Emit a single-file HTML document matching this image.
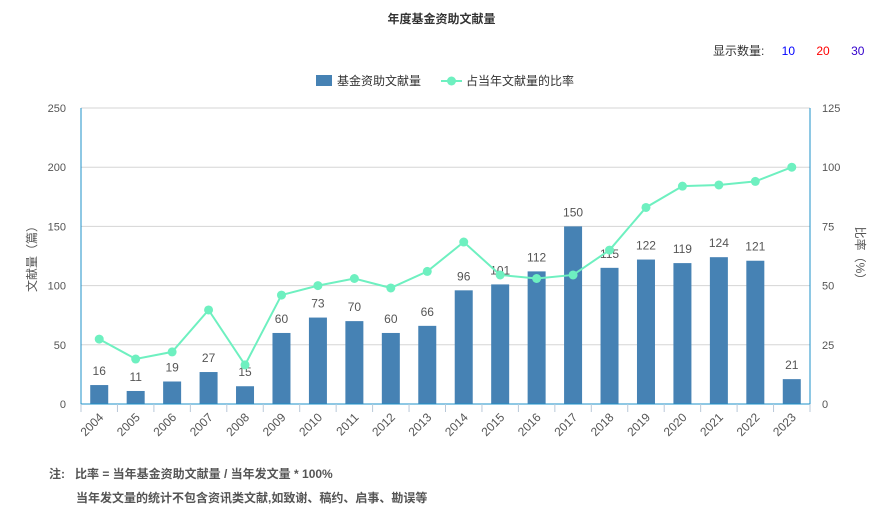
<!DOCTYPE html>
<html><head><meta charset="utf-8"><style>
body{margin:0;width:883px;height:511px;background:#fff;font-family:"Liberation Sans","Noto Sans CJK SC",sans-serif;color:#333;overflow:hidden;position:relative}
.t{position:absolute;white-space:nowrap}
</style></head><body>
<div class="t" style="left:0;width:883px;top:10px;text-align:center;font-size:12px;font-weight:bold;color:#333">年度基金资助文献量</div>
<div class="t" style="left:713px;top:42px;font-size:12px;color:#333">显示数量:
<span style="color:#00f;margin-left:14px">10</span>
<span style="color:#f00;margin-left:18px">20</span>
<span style="color:#30c;margin-left:18px">30</span></div>
<svg width="883" height="511" style="position:absolute;left:0;top:0" id="chart">
<g font-size="12" fill="#333">
<rect x="316" y="75" width="16" height="11" fill="#4682b4"/>
<text x="337" y="85">基金资助文献量</text>
<line x1="441" y1="81" x2="462" y2="81" stroke="#6ef0c0" stroke-width="2"/>
<circle cx="451.5" cy="81" r="4.5" fill="#6ef0c0"/>
<text x="466" y="85">占当年文献量的比率</text>
</g>
<g id="grid"></g><g id="bars"></g><g id="line"></g><g id="axes"></g>
<text transform="translate(36,256) rotate(-90)" text-anchor="middle" font-size="12" fill="#555">文献量（篇）</text>
<text transform="translate(856,256) rotate(90)" text-anchor="middle" font-size="12" fill="#555">比率（%）</text>
</svg>
<div class="t" style="left:49px;top:465px;font-size:12px;font-weight:bold;color:#555">注:&nbsp;&nbsp; 比率 = 当年基金资助文献量 / 当年发文量 * 100%</div>
<div class="t" style="left:76px;top:489px;font-size:12px;font-weight:bold;color:#555">当年发文量的统计不包含资讯类文献,如致谢、稿约、启事、勘误等</div>
<script>
const years=["2004","2005","2006","2007","2008","2009","2010","2011","2012","2013","2014","2015","2016","2017","2018","2019","2020","2021","2022","2023"];
const counts=[16,11,19,27,15,60,73,70,60,66,96,101,112,150,115,122,119,124,121,21];
const ratios=[27.4,19,22,39.7,16.5,46,50,53,49,56,68.4,54.5,53,54.5,65,83,92,92.5,94,100];
const leftTicks=[0,50,100,150,200,250];
const rightTicks=[0,25,50,75,100,125];
const NS="http://www.w3.org/2000/svg";
const X0=81,X1=810,Y0=404,Y1=108;
const bw=(X1-X0)/years.length;
const xC=i=>X0+bw*(i+0.5);
const yL=v=>Y0-(v/250)*(Y0-Y1);
const yR=v=>Y0-(v/125)*(Y0-Y1);
function mk(tag,attrs,parent,txt){const e=document.createElementNS(NS,tag);for(const k in attrs)e.setAttribute(k,attrs[k]);if(txt!==undefined)e.textContent=txt;document.getElementById(parent).appendChild(e);return e;}
leftTicks.forEach((t,i)=>{
 const g=mk('line',{x1:X0,x2:X1,y1:yL(t),y2:yL(t),stroke:'#d5d5d5'},'grid');
 
 
 const a=mk('text',{x:66,y:yL(t)+4,'text-anchor':'end','font-size':11,fill:'#555'},'axes',t);
 
 
});
rightTicks.forEach(t=>{
 const a=mk('text',{x:822,y:yR(t)+4,'font-size':11,fill:'#555'},'axes',t);
 
 
});
mk('line',{x1:X0,x2:X0,y1:Y1,y2:Y0,stroke:'#1e90c8'},'axes');
mk('line',{x1:X1,x2:X1,y1:Y1,y2:Y0,stroke:'#1e90c8'},'axes');
mk('line',{x1:X0,x2:X1,y1:Y0,y2:Y0,stroke:'#1e90c8'},'axes');
for(let i=0;i<=years.length;i++)mk('line',{x1:X0+bw*i,x2:X0+bw*i,y1:Y0,y2:Y0+8,stroke:'#b8c8d8'},'axes');
years.forEach((y,i)=>{
 const r=mk('rect',{x:xC(i)-9,y:yL(counts[i]),width:18,height:Y0-yL(counts[i]),fill:'#4682b4'},'bars');
 
 
 const l=mk('text',{x:xC(i),y:yL(counts[i])-10,'text-anchor':'middle','font-size':12,fill:'#555'},'bars',counts[i]);
 
 
 const xl=mk('text',{transform:`translate(${xC(i)+5},${Y0+14}) rotate(-45)`,'text-anchor':'end','font-size':12,fill:'#555'},'axes',y);
 
 
});
const pl=mk('polyline',{points:ratios.map((v,i)=>xC(i)+','+yR(v)).join(' '),fill:'none',stroke:'#6ef0c0','stroke-width':2},'line');


ratios.forEach((v,i)=>{
 const c=mk('circle',{cx:xC(i),cy:yR(v),r:4.5,fill:'#6ef0c0'},'line');
 
 
});
</script>
</body></html>
